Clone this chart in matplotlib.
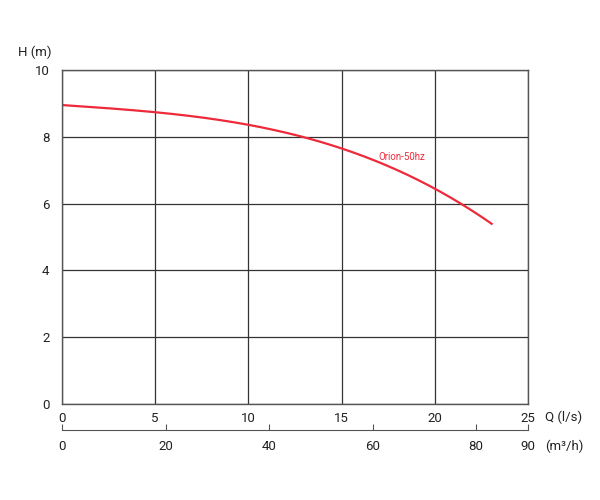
import matplotlib.pyplot as plt
import numpy as np

plt.rcParams['font.family'] = ['Roboto', 'DejaVu Sans']

# pump curve (Q in l/s, H in m)
q_ls = [0, 2.5, 5, 7.5, 10, 12.5, 15, 17.5, 20, 21.3, 23.05]
h_m = [8.95, 8.86, 8.73, 8.57, 8.37, 8.05, 7.66, 7.12, 6.46, 6.0, 5.41]
curve_label = 'Orion-50hz'

x_ticks_ls = [0, 5, 10, 15, 20, 25]
y_ticks = [0, 2, 4, 6, 8, 10]
x_ticks_m3h = [0, 20, 40, 60, 80, 90]

line_color = '#555555'
curve_color = '#ee2a3a'

fig = plt.figure(figsize=(6, 5), dpi=100, facecolor='white')
ax = fig.add_axes([0.1033, 0.192, 0.7767, 0.668])

# smooth the read points a bit for display
qq = np.linspace(q_ls[0], q_ls[-1], 200)
coef = np.polyfit(q_ls, h_m, 3)
ax.plot(qq, np.polyval(coef, qq), color=curve_color, linewidth=1.6)
ax.text(17.0, 7.3, curve_label, color=curve_color, fontsize=7)

ax.set_xlim(0, 25)
ax.set_ylim(0, 10)
ax.set_xticks(x_ticks_ls)
ax.set_yticks(y_ticks)
ax.grid(True, color='#333333', linewidth=0.9)
ax.tick_params(length=0, labelsize=9.5, colors='#222222')
ax.tick_params(axis='x', pad=6)
ax.tick_params(axis='y', pad=9)
for s in ax.spines.values():
    s.set_color(line_color)
    s.set_linewidth(1.0)

fig.text(0.03, 0.895, 'H (m)', fontsize=9.5, color='#222222', va='center')
fig.text(0.908, 0.165, 'Q (l/s)', fontsize=9.5, color='#222222', va='center')

# secondary flow scale in m3/h
ax2 = fig.add_axes([0.1033, 0.14, 0.7767, 0.0001])
ax2.set_xlim(0, 90)
ax2.set_xticks(x_ticks_m3h)
ax2.set_yticks([])
for side in ['top', 'left', 'right']:
    ax2.spines[side].set_visible(False)
ax2.spines['bottom'].set_color(line_color)
ax2.tick_params(axis='x', direction='in', length=4, color=line_color,
                labelsize=9.5, labelcolor='#222222', pad=7)
fig.text(0.908, 0.107, '(m³/h)', fontsize=9.5, color='#222222', va='center')

fig.savefig('out.png', dpi=100, facecolor='white')
